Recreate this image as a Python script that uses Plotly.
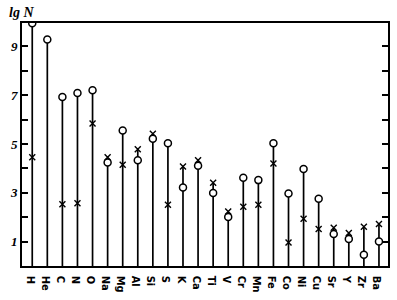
import plotly.graph_objects as go

elements = ["H", "He", "C", "N", "O", "Na", "Mg", "Al", "Si", "S", "K", "Ca",
            "Ti", "V", "Cr", "Mn", "Fe", "Co", "Ni", "Cu", "Sr", "Y", "Zr", "Ba"]
circle_vals = [9.95, 9.28, 6.93, 7.09, 7.20, 4.24, 5.55, 4.33, 5.22, 5.03, 3.22, 4.11,
               2.99, 2.01, 3.62, 3.52, 5.03, 2.97, 3.98, 2.76, 1.31, 1.11, 0.46, 1.00]
cross_vals = [4.46, None, 2.53, 2.57, 5.84, 4.46, 4.15, 4.79, 5.42, 2.51, 4.08, 4.33,
              3.41, 2.23, 2.43, 2.51, 4.20, 0.96, 1.94, 1.52, 1.57, 1.35, 1.61, 1.72]
y_tickvals = [1, 2, 3, 4, 5, 6, 7, 8, 9]
y_ticktext = ["1", "", "3", "", "5", "", "7", "", "9"]

idx = list(range(len(elements)))

# vertical stems from 0 to the higher of the two values
sx, sy = [], []
for i, c, x in zip(idx, circle_vals, cross_vals):
    top = max(c, x) if x is not None else c
    sx += [i, i, None]
    sy += [0, top, None]

fig = go.Figure()
fig.add_trace(go.Scatter(x=sx, y=sy, mode="lines",
                         line=dict(color="black", width=1.7), hoverinfo="skip"))
cx = [i for i, v in zip(idx, cross_vals) if v is not None]
cy = [v for v in cross_vals if v is not None]
fig.add_trace(go.Scatter(x=cx, y=cy, mode="markers",
                         marker=dict(symbol="x-thin-open", size=6, color="black",
                                     line=dict(color="black", width=1.4))))
fig.add_trace(go.Scatter(x=idx, y=circle_vals, mode="markers",
                         marker=dict(symbol="circle", size=7, color="white",
                                     line=dict(color="black", width=1.5))))

fig.update_layout(
    width=397, height=300,
    margin=dict(l=22, r=7, t=23, b=24),
    paper_bgcolor="white", plot_bgcolor="white",
    showlegend=False,
    font=dict(family="DejaVu Sans Condensed, Liberation Sans Narrow, sans-serif", color="black"),
    annotations=[dict(text="<b><i>lg N</i></b>", xref="paper", yref="paper",
                      x=-0.042, y=1, xanchor="left", yanchor="bottom", yshift=1,
                      showarrow=False, font=dict(size=14, family="Liberation Serif, serif"))],
)
fig.update_xaxes(range=[-0.68, 23.6], tickmode="array", tickvals=idx, ticktext=elements,
                 showgrid=False, zeroline=False, ticks="", showline=True, mirror=True,
                 linecolor="black", linewidth=2,
                 tickfont=dict(size=11, weight="bold"))
fig.update_yaxes(range=[0, 9.96], tickmode="array", tickvals=y_tickvals, ticktext=y_ticktext,
                 showgrid=False, zeroline=False, ticks="inside", ticklen=6, tickwidth=1.5,
                 tickcolor="black", showline=True, mirror="allticks",
                 linecolor="black", linewidth=2,
                 tickfont=dict(size=13, style="italic", family="Liberation Serif, serif", weight="bold"))

fig.write_html("out.html")
